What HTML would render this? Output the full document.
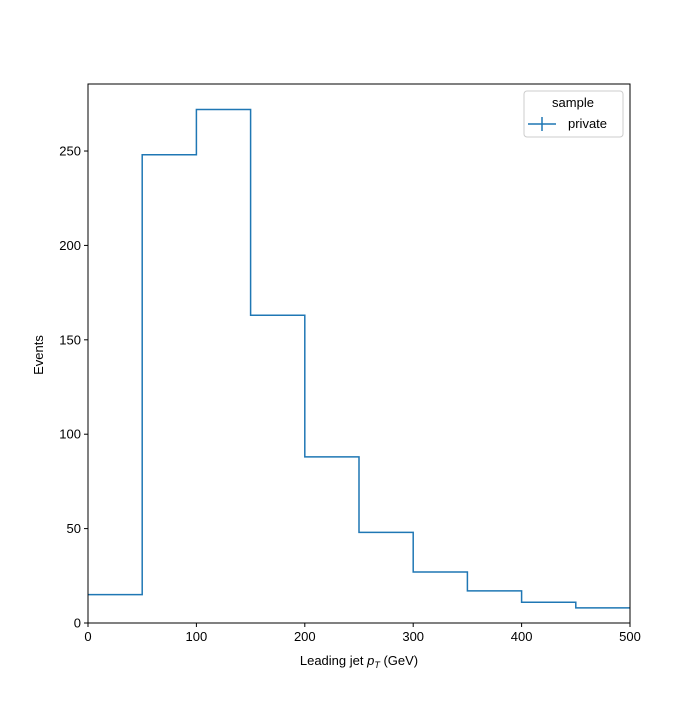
<!DOCTYPE html>
<html><head><meta charset="utf-8">
<style>
body{margin:0;background:#fff;}
svg{font-family:"Liberation Sans","DejaVu Sans",sans-serif;}
</style></head>
<body>
<svg id="chart" width="700" height="700" viewBox="0 0 700 700">
<rect x="0" y="0" width="700" height="700" fill="#fff"/>
<g id="plot"></g>
<rect x="88" y="84" width="542" height="539" fill="none" stroke="#000" stroke-width="1"/>
<text x="359" y="665" font-size="13" text-anchor="middle">Leading jet  <tspan font-style="italic">p</tspan><tspan font-style="italic" font-size="9" dy="3">T</tspan><tspan dy="-3"> (GeV)</tspan></text>
<text x="43" y="355" font-size="13" text-anchor="middle" transform="rotate(-90 43 355)">Events</text>
<g>
<rect x="524" y="91" width="99" height="46" rx="3" fill="#fff" stroke="#ccc"/>
<text x="573" y="107" font-size="13" text-anchor="middle">sample</text>
<line x1="528" y1="124" x2="556" y2="124" stroke="#1f77b4" stroke-width="1.5"/>
<line x1="542" y1="117" x2="542" y2="131" stroke="#1f77b4" stroke-width="1.5"/>
<text x="568" y="128" font-size="13">private</text>
</g>
</svg>
<script>
const binEdges=[0,50,100,150,200,250,300,350,400,450,500];
const counts=[15,248,272,163,88,48,27,17,11,8];
const xTicks=[0,100,200,300,400,500];
const yTicks=[0,50,100,150,200,250];
const X0=88,X1=630,Y0=623,Y1=84,xMax=500,yMax=285.5;
const xs=v=>X0+(X1-X0)*v/xMax;
const ys=v=>Y0-(Y0-Y1)*v/yMax;
const NS="http://www.w3.org/2000/svg";
const plot=document.getElementById('plot');
function mk(t,a){const e=document.createElementNS(NS,t);for(const k in a)e.setAttribute(k,a[k]);return e;}
let d="M"+xs(binEdges[0])+","+ys(counts[0]);
for(let i=0;i<counts.length;i++){
  d+=" L"+xs(binEdges[i])+","+ys(counts[i])+" L"+xs(binEdges[i+1])+","+ys(counts[i]);
}
const p=mk('path',{d:d,fill:'none',stroke:'#1f77b4','stroke-width':1.5});


plot.appendChild(p);
xTicks.forEach(v=>{
  const l=mk('line',{x1:xs(v),x2:xs(v),y1:Y0,y2:Y0+4,stroke:'#000'});
  
  
  plot.appendChild(l);
  const t=mk('text',{x:xs(v),y:Y0+18,'font-size':13,'text-anchor':'middle'});
  
  
  t.textContent=v;plot.appendChild(t);
});
yTicks.forEach(v=>{
  const l=mk('line',{x1:X0-4,x2:X0,y1:ys(v),y2:ys(v),stroke:'#000'});
  
  
  plot.appendChild(l);
  const t=mk('text',{x:X0-7,y:ys(v)+4.5,'font-size':13,'text-anchor':'end'});
  
  
  t.textContent=v;plot.appendChild(t);
});
</script>
</body></html>
